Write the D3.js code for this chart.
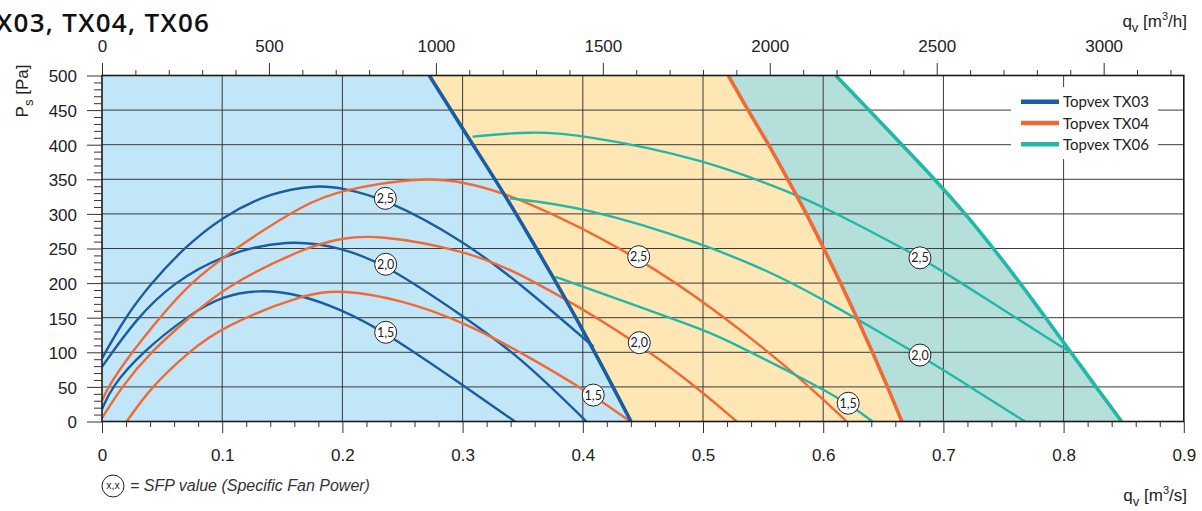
<!DOCTYPE html>
<html><head><meta charset="utf-8">
<script src="https://cdn.jsdelivr.net/npm/d3@7"></script>
<style>
body{margin:0;background:#fff;}
svg{display:block;}
</style>
</head><body>
<svg id="chart" width="1202" height="511"></svg>
<script>
// ---------- data ----------
const xTicks = [0, 0.1, 0.2, 0.3, 0.4, 0.5, 0.6, 0.7, 0.8, 0.9];
const yTicks = [0, 50, 100, 150, 200, 250, 300, 350, 400, 450, 500];
const topTicks = [0, 500, 1000, 1500, 2000, 2500, 3000];
const sfpText = ["2,5", "2,0", "1,5"];
const seriesNames = ["Topvex TX03", "Topvex TX04", "Topvex TX06"];

// SFP curves [q m3/s, ps Pa]
const tx03Sfp25 = [[0,91],[0.019,150],[0.041,200],[0.0676,250],[0.1,296],[0.14,331],[0.18,342],[0.2,337],[0.2357,322.5],[0.3,262],[0.3478,199.5],[0.4089,108]];
const tx03Sfp20 = [[0,79],[0.029,150],[0.059,200],[0.1,241],[0.155,264],[0.2,251],[0.236,227],[0.3,153],[0.3478,93.7],[0.403,0]];
const tx03Sfp15 = [[0,17.8],[0.008,50],[0.033,100],[0.074,156],[0.1,181],[0.131,191],[0.165,183.5],[0.2,161],[0.236,128.8],[0.3,52.9],[0.3436,0]];
const tx04Sfp25 = [[0,29.8],[0.005,50],[0.0247,100],[0.048,150],[0.073,200],[0.1105,250],[0.1687,315],[0.2,335],[0.2644,353],[0.3,347],[0.3478,324.5],[0.4465,238.2],[0.5141,156.4],[0.5793,65.8],[0.6195,0]];
const tx04Sfp20 = [[0,4.8],[0.0163,50],[0.04,100],[0.074,152],[0.1,192.3],[0.1687,252],[0.2,265],[0.228,270],[0.3,248],[0.3478,216],[0.447,113.9],[0.5,42],[0.528,0]];
const tx04Sfp15 = [[0.0205,0],[0.041,50],[0.0717,100],[0.1,137],[0.1687,185],[0.2,190.5],[0.25,175.5],[0.3,144],[0.3478,101],[0.4087,38.2],[0.4394,0]];
const tx06Sfp25 = [[0.3083,411.6],[0.356,419.5],[0.4,414.5],[0.5,380],[0.578,327.3],[0.6,310.5],[0.6722,245.4],[0.7,217],[0.8,105.8],[0.8067,99.5]];
const tx06Sfp20 = [[0.3394,322.5],[0.4,310.5],[0.5,257.5],[0.564,210],[0.6056,170.8],[0.68,96],[0.7,74.4],[0.7679,0]];
const tx06Sfp15 = [[0.377,209],[0.4,195],[0.5,133],[0.5141,122.5],[0.5793,65.8],[0.6209,26.3],[0.641,0]];

// max working range limits
const tx03Limit = [[0.2723,500],[0.302,418],[0.334,330],[0.3614,250],[0.3751,209],[0.4099,100],[0.4401,0]];
const tx04Limit = [[0.521,500],[0.5375,450],[0.5545,400],[0.5705,350],[0.586,300],[0.6005,250],[0.6145,200],[0.628,150],[0.641,100],[0.6535,50],[0.6655,0]];
const tx06Limit = [[0.6105,500],[0.638,450],[0.6655,400],[0.6925,350],[0.718,300],[0.7415,250],[0.7637,200],[0.785,150],[0.806,100],[0.827,50],[0.8483,0]];

// SFP label positions [q, ps] in order 2,5 / 2,0 / 1,5
const tx03LabelPos = [[0.2357,322.5],[0.236,227.2],[0.236,128.9]];
const tx04LabelPos = [[0.4465,238.2],[0.447,113.9],[0.4087,38.2]];
const tx06LabelPos = [[0.6805,236.5],[0.6805,96.0],[0.6208,26.4]];

// ---------- styles ----------
const colors = ["#1c5d9f", "#f06a36", "#22b7a7"];
const fills = ["#c1e6f7", "#fee7b4", "#b5dfdb"];
const tickFont = "'Liberation Sans', Arial, sans-serif";

const svg = d3.select("#chart");
const L = 102, T = 75.5, R = 1183.8, B = 421.5;
const x = d3.scaleLinear().domain([0, 0.9]).range([L, R]);
const y = d3.scaleLinear().domain([0, 500]).range([B, T]);
const xTop = d3.scaleLinear().domain([0, 0.9 * 3600]).range([L, R]);

svg.append("defs").append("clipPath").attr("id", "plotClip")
  .append("rect").attr("x", L).attr("y", T).attr("width", R - L).attr("height", B - T);

const limitLine = d3.line().x(d => x(d[0])).y(d => y(d[1])).curve(d3.curveMonotoneX);
const sfpLine = d3.line().x(d => x(d[0])).y(d => y(d[1])).curve(d3.curveBasis);

const plot = svg.append("g").attr("clip-path", "url(#plotClip)");

// background fills
const rev = a => a.slice().reverse();
const p03 = limitLine(tx03Limit), p04 = limitLine(tx04Limit);
plot.append("path").attr("fill", fills[0])
  .attr("d", `M${x(0)},${y(0)}L${x(0)},${y(500)}` + p03.replace(/^M/, "L") + "Z");
plot.append("path").attr("fill", fills[1])
  .attr("d", p03 + limitLine(rev(tx04Limit)).replace(/^M/, "L") + "Z");
plot.append("path").attr("fill", fills[2])
  .attr("d", p04 + limitLine(rev(tx06Limit)).replace(/^M/, "L") + "Z");

// grid
const grid = plot.append("g").attr("stroke", "#3a3a3a").attr("stroke-width", 1);
xTicks.slice(1, -1).forEach(v => grid.append("line").attr("x1", x(v)).attr("x2", x(v)).attr("y1", T).attr("y2", B));
yTicks.slice(1, -1).forEach(v => grid.append("line").attr("x1", L).attr("x2", R).attr("y1", y(v)).attr("y2", y(v)));

// SFP curves
const sfpSets = [[tx03Sfp25, tx03Sfp20, tx03Sfp15], [tx04Sfp25, tx04Sfp20, tx04Sfp15], [tx06Sfp25, tx06Sfp20, tx06Sfp15]];
sfpSets.forEach((set, i) => set.forEach(c => plot.append("path").attr("d", sfpLine(c))
  .attr("fill", "none").attr("stroke", colors[i]).attr("stroke-width", 2.4)));

// limit curves
[tx03Limit, tx04Limit, tx06Limit].forEach((c, i) => plot.append("path").attr("d", limitLine(c))
  .attr("fill", "none").attr("stroke", colors[i]).attr("stroke-width", 3.6));

// SFP labels
[tx03LabelPos, tx04LabelPos, tx06LabelPos].forEach(pos => pos.forEach((d, j) => {
  const g = svg.append("g").attr("transform", `translate(${x(d[0])},${y(d[1])})`);
  g.append("circle").attr("r", 11).attr("fill", "#fff").attr("stroke", "#222").attr("stroke-width", 1);
  g.append("text").attr("text-anchor", "middle").attr("dy", "0.36em")
    .attr("font-family", "Lato, sans-serif").attr("font-size", 12.5).attr("fill", "#222").text(sfpText[j]);
}));

// legend
const lg = svg.append("g");
lg.append("rect").attr("x", 1011).attr("y", 87).attr("width", 147).attr("height", 72).attr("fill", "#fff");
seriesNames.forEach((n, i) => {
  const yy = 101.7 + i * 21.3;
  lg.append("line").attr("x1", 1021).attr("x2", 1059).attr("y1", yy).attr("y2", yy)
    .attr("stroke", colors[i]).attr("stroke-width", 4.5);
  lg.append("text").attr("x", 1063).attr("y", yy + 5.5).attr("font-family", "Lato, sans-serif")
    .attr("font-size", 15).attr("fill", "#222").text(n);
});

// frame
svg.append("rect").attr("x", L).attr("y", T).attr("width", R - L).attr("height", B - T)
  .attr("fill", "none").attr("stroke", "#1a1a1a").attr("stroke-width", 1.6);

// axes
function styleAxis(g) {
  g.select(".domain").remove();
  g.selectAll(".tick line").attr("stroke", "#333").attr("stroke-width", 1);
  g.selectAll("text").attr("font-family", tickFont).attr("font-size", 17).attr("fill", "#222");
}
const minorX = d3.range(1, 45).map(i => i * 0.02).filter(v => Math.abs(v * 10 - Math.round(v * 10)) > 1e-6);
const minorY = d3.range(1, 50).map(i => i * 10).filter(v => v % 50 !== 0);
const minorTop = d3.range(1, 33).map(i => i * 100).filter(v => v % 500 !== 0);

const gb = svg.append("g").attr("transform", `translate(0,${B})`)
  .call(d3.axisBottom(x).tickValues(xTicks).tickSize(11.5).tickFormat(d => d === 0 ? "0" : d3.format(".1f")(d)));
styleAxis(gb); gb.selectAll("text").attr("y", 39).attr("dy", 0);
const gbm = svg.append("g").attr("transform", `translate(0,${B})`)
  .call(d3.axisBottom(x).tickValues(minorX).tickSize(5.5).tickFormat(""));
styleAxis(gbm);

const gl = svg.append("g").attr("transform", `translate(${L},0)`)
  .call(d3.axisLeft(y).tickValues(yTicks).tickSize(15).tickFormat(d3.format("d")));
styleAxis(gl); gl.selectAll("text").attr("x", -25).attr("dy", "0.38em");
const glm = svg.append("g").attr("transform", `translate(${L},0)`)
  .call(d3.axisLeft(y).tickValues(minorY).tickSize(8).tickFormat(""));
styleAxis(glm);

const gt = svg.append("g").attr("transform", `translate(0,${T})`)
  .call(d3.axisTop(xTop).tickValues(topTicks).tickSize(12.5).tickFormat(d3.format("d")));
styleAxis(gt); gt.selectAll("text").attr("y", -24).attr("dy", 0);
const gtm = svg.append("g").attr("transform", `translate(0,${T})`)
  .call(d3.axisTop(xTop).tickValues(minorTop).tickSize(5.5).tickFormat(""));
styleAxis(gtm);

// axis titles
const ty = svg.append("text").attr("transform", "translate(28,91) rotate(-90)")
  .attr("text-anchor", "middle").attr("font-family", tickFont).attr("font-size", 17).attr("fill", "#222");
ty.append("tspan").text("P");
ty.append("tspan").attr("font-size", 13).attr("dy", 5).text("s");
ty.append("tspan").attr("dy", -5).text(" [Pa]");

function qTitle(xEnd, yBase, unit) {
  const t = svg.append("text").attr("x", xEnd).attr("y", yBase).attr("text-anchor", "end")
    .attr("font-family", tickFont).attr("font-size", 17).attr("fill", "#222");
  t.append("tspan").text("q");
  t.append("tspan").attr("font-size", 13).attr("dy", 5).text("v");
  t.append("tspan").attr("dy", -5).text(" [m");
  t.append("tspan").attr("font-size", 11).attr("dy", -7).text("3");
  t.append("tspan").attr("dy", 7).text(unit + "]");
}
qTitle(1187, 27, "/h");
qTitle(1187, 501, "/s");

// title (its left end runs off the page as in the reference)
const title = svg.append("text").attr("y", 32).attr("text-anchor", "start")
  .attr("font-family", "'Open Sans', sans-serif").attr("font-weight", 600).attr("font-size", 26)
  .attr("letter-spacing", 1.3).attr("fill", "#111").text("TX03, TX04, TX06");
const tAdv = title.node().getSubStringLength(0, 1);
title.attr("x", -4 - tAdv);

// SFP note
const note = svg.append("g");
note.append("circle").attr("cx", 113).attr("cy", 486).attr("r", 11).attr("fill", "#fff")
  .attr("stroke", "#222").attr("stroke-width", 1);
note.append("text").attr("x", 113).attr("y", 486).attr("dy", "0.3em").attr("text-anchor", "middle")
  .attr("font-family", tickFont).attr("font-size", 10.5).attr("fill", "#222").text("x,x");
note.append("text").attr("x", 130).attr("y", 491).attr("font-family", tickFont)
  .attr("font-style", "italic").attr("font-size", 16).attr("fill", "#333")
  .text("= SFP value (Specific Fan Power)");
</script>
</body></html>
